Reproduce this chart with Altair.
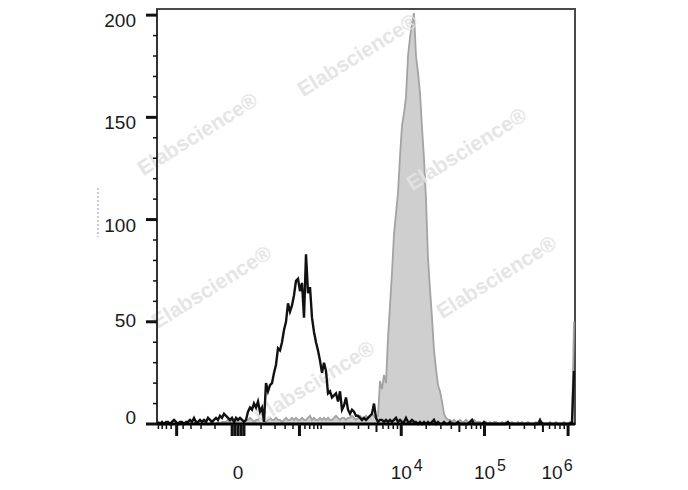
import numpy as np
import pandas as pd
import altair as alt

# ---- data (counts per histogram bin, left to right) ----
black_counts = [
    1, 0, 1, 0, 1, 1, 0, 1, 2, 1,
    0, 1, 1, 0, 1, 1, 2, 1, 3, 1,
    1, 2, 1, 2, 1, 3, 2, 1, 2, 3,
    2, 4, 3, 5, 4, 3, 2, 3, 1, 3,
    2, 3, 2, 1, 2, 6, 8, 7, 10, 8,
    11, 6, 8, 1, 20, 16, 19, 20, 25, 29,
    37, 36, 40, 46, 50, 59, 55, 58, 63, 70,
    71, 65, 69, 52, 83, 64, 67, 52, 45, 40,
    36, 31, 25, 30, 26, 15, 16, 13, 14, 15,
    11, 16, 7, 9, 13, 7, 5, 7, 6, 4,
    4, 3, 2, 3, 2, 3, 4, 5, 10, 3,
    1, 2, 2, 1, 2, 1, 2, 1, 2, 3,
    1, 2, 1, 1, 3, 1, 1, 2, 1, 1,
    0, 1, 0, 1, 0, 1, 0, 1, 2, 0,
    1, 0, 0, 1, 0, 0, 1, 0, 0, 0,
    1, 0, 0, 0, 0, 0, 1, 2, 0, 0,
    0, 0, 0, 1, 0, 0, 0, 0, 0, 0,
    0, 0, 0, 0, 0, 1, 0, 0, 0, 0,
    0, 0, 0, 0, 0, 0, 0, 0, 0, 0,
    0, 2, 0, 0, 0, 0, 0, 0, 0, 0,
    0, 0, 0, 0, 0, 0, 0, 1, 26,
]
gray_counts = [
    0, 0, 0, 0, 0, 1, 0, 0, 0, 0,
    0, 0, 1, 0, 0, 0, 0, 0, 0, 1,
    0, 0, 0, 0, 1, 0, 0, 1, 0, 0,
    1, 0, 1, 1,
    1, 2, 1, 2, 2, 1, 2, 3, 2, 1,
    2, 2, 3, 2, 1, 2, 2, 3, 2, 2,
    1, 2, 3, 2, 2, 3, 2, 2, 1, 2,
    3, 2, 2, 3, 2, 3, 2, 2, 3, 2,
    2, 3, 4, 2, 3, 2, 2, 3, 2, 3,
    2, 3, 2, 2, 3, 4, 3, 2, 3, 3,
    2, 3, 3, 4, 3, 2, 3, 4, 3, 3,
    4, 3, 4, 5, 4, 3,
    4, 21, 17, 24, 20, 42, 58, 74, 93, 103,
    113, 131, 146, 152, 160, 180, 189, 196, 201, 180,
    172, 162, 145, 130, 110, 81, 66, 52, 36, 27,
    19, 16, 11, 5, 3, 2,
    2, 1, 2, 1, 1, 2, 1, 1, 2, 1, 1, 1, 2, 1, 1,
    1, 0, 1, 1, 0, 1, 0, 1, 1, 0,
    0, 1, 0, 1, 0, 0, 1, 0, 0, 1,
    0, 1, 0, 0, 1, 0, 0, 0, 1, 0,
    0, 1, 0, 0, 0, 1, 0, 0, 1, 0,
    0, 0, 1, 0, 0, 1, 1,
    50,
]
y_tick_values = [0, 10, 20, 30, 40, 50, 60, 70, 80, 90, 100,
                 110, 120, 130, 140, 150, 160, 170, 180, 190, 200]
y_label_values = [0, 50, 100, 150, 200]
x_tick_values = [-900, -800, -700, -600, -500, -400, -300, -200, -100,
                 -20, -10, 0, 10, 20,
                 100, 200, 300, 400, 500, 600, 700, 800, 900,
                 1000, 2000, 3000, 4000, 5000, 6000, 7000, 8000, 9000,
                 10000, 20000, 30000, 40000, 50000, 60000, 70000, 80000, 90000,
                 100000, 200000, 300000, 400000, 500000, 600000, 700000, 800000, 900000,
                 1000000]
x_label_values = [0, 10000, 100000, 1000000]
x_label_bases = ["0", "10", "10", "10"]
x_label_exps = ["", "4", "5", "6"]
watermark = "Elabscience®"

# ---- biexponential-like display: symlog scale, bins uniform in display space ----
C = 113.0
X_MIN, X_MAX = -940.0, 1.21e6
t_min = -np.log1p(-X_MIN / C)
t_max = np.log1p(X_MAX / C)
n = len(black_counts)
t = t_min + (np.arange(n) + 0.5) * (t_max - t_min) / n
bin_x = np.sign(t) * C * np.expm1(np.abs(t))

black_df = pd.DataFrame({"x": bin_x, "count": black_counts})
gray_df = pd.DataFrame({"x": bin_x, "count": gray_counts})
xt_df = pd.DataFrame({"v": x_tick_values})
yt_df = pd.DataFrame({"v": y_tick_values})
yl_df = pd.DataFrame({"v": y_label_values})
xl_df = pd.DataFrame({"v": x_label_values, "base": x_label_bases, "exp": x_label_exps})
one = pd.DataFrame({"a": [0]})

W, H = 418, 415
FONT = "Liberation Sans"
TXT = "#1a1a1a"
xscale = alt.Scale(type="symlog", constant=C, domain=[X_MIN, X_MAX], nice=False)
yscale = alt.Scale(domain=[0, 203], nice=False)


def X(field):
    return alt.X(f"{field}:Q", scale=xscale, axis=None)


def Y(field):
    return alt.Y(f"{field}:Q", scale=yscale, axis=None)


gray = alt.Chart(gray_df).mark_area(
    color="#cfcfcf", opacity=1, interpolate="linear",
    line={"color": "#a3a3a3", "strokeWidth": 1.8},
).encode(x=X("x"), y=Y("count"))

black = alt.Chart(black_df).mark_line(
    color="#111111", strokeWidth=2.4, interpolate="linear"
).encode(x=X("x"), y=Y("count"))

# watermarks
wm_pos = [(201, 47), (41, 126), (310, 141), (55, 279), (340, 269), (158, 374)]
wms = [
    alt.Chart(one).mark_text(
        text=watermark, font=FONT, fontSize=21, fontWeight="bold", color="#e3e3e3",
        opacity=0.9, angle=328, align="center", baseline="middle",
    ).encode(x=alt.value(px), y=alt.value(py))
    for px, py in wm_pos
]

# axis lines
left_line = alt.Chart(one).mark_rule(color="#333333", strokeWidth=2).encode(
    x=alt.value(0), y=alt.value(0), y2=alt.value(H))
bottom_line = alt.Chart(one).mark_rule(color="#000000", strokeWidth=3).encode(
    x=alt.value(0), x2=alt.value(W), y=alt.value(H))

# y ticks
ymaj = alt.Chart(yt_df).transform_filter("datum.v % 50 === 0").mark_rule(
    color="#111", strokeWidth=3).encode(y=Y("v"), x=alt.value(-11), x2=alt.value(0))
ymin = alt.Chart(yt_df).transform_filter("datum.v % 50 !== 0").mark_rule(
    color="#111", strokeWidth=1.5).encode(y=Y("v"), x=alt.value(-4), x2=alt.value(0))

# x ticks
long_x = ("abs(datum.v) <= 20 || abs(datum.v) == 500 || datum.v == 10000 "
          "|| datum.v == 100000 || datum.v == 1000000")
mid_x = "datum.v == 5000 || datum.v == 50000 || datum.v == 500000"
xlong = alt.Chart(xt_df).transform_filter(long_x).mark_rule(
    color="#111", strokeWidth=3).encode(x=X("v"), y=alt.value(H), y2=alt.value(H + 12))
xmid = alt.Chart(xt_df).transform_filter(mid_x).mark_rule(
    color="#111", strokeWidth=2).encode(x=X("v"), y=alt.value(H), y2=alt.value(H + 8))
xshort = alt.Chart(xt_df).transform_filter(f"!({long_x}) && !({mid_x})").mark_rule(
    color="#111", strokeWidth=1.5).encode(x=X("v"), y=alt.value(H), y2=alt.value(H + 5))


# y labels
def ylab(filter_expr, dy):
    return alt.Chart(yl_df).transform_filter(filter_expr).mark_text(
        font=FONT, fontSize=19, color=TXT, align="right", baseline="middle", dy=dy,
    ).encode(y=Y("v"), x=alt.value(-21), text=alt.Text("v:Q"))


ylab_hi = ylab("datum.v >= 100", 6)
ylab_50 = ylab("datum.v == 50", -1)
ylab_0 = ylab("datum.v == 0", -6)


# x tick labels (base + raised exponent)
def xlab(filter_expr, field, size, ypos, dx):
    return alt.Chart(xl_df).transform_filter(filter_expr).mark_text(
        font=FONT, fontSize=size, color=TXT, align="center",
        baseline="alphabetic", dx=dx,
    ).encode(x=X("v"), y=alt.value(ypos), text=alt.Text(f"{field}:N"))


base_main = xlab("datum.v < 1000000", "base", 19, 470, 0)
base_edge = xlab("datum.v >= 1000000", "base", 19, 470, -16)
exp_main = xlab("datum.v > 0 && datum.v < 1000000", "exp", 16, 462, 17)
exp_edge = xlab("datum.v >= 1000000", "exp", 16, 462, 0)

# faint dashed artefact left of the y axis
artefact = alt.Chart(one).mark_rule(color="#999999", strokeDash=[2, 2], strokeWidth=1).encode(
    x=alt.value(-59), y=alt.value(179), y2=alt.value(228))

chart = alt.layer(
    gray, *wms, black, left_line, bottom_line, ymaj, ymin, xlong, xmid, xshort,
    ylab_hi, ylab_50, ylab_0, base_main, base_edge, exp_main, exp_edge, artefact,
).properties(
    width=W, height=H,
    autosize=alt.AutoSizeParams(type="none"),
    padding={"left": 149, "top": 1, "right": 105, "bottom": 58},
    background="white",
).configure_view(stroke="#4a4a4a", strokeWidth=2)

chart.save("out.html", embed_options={"renderer": "svg", "actions": False})
